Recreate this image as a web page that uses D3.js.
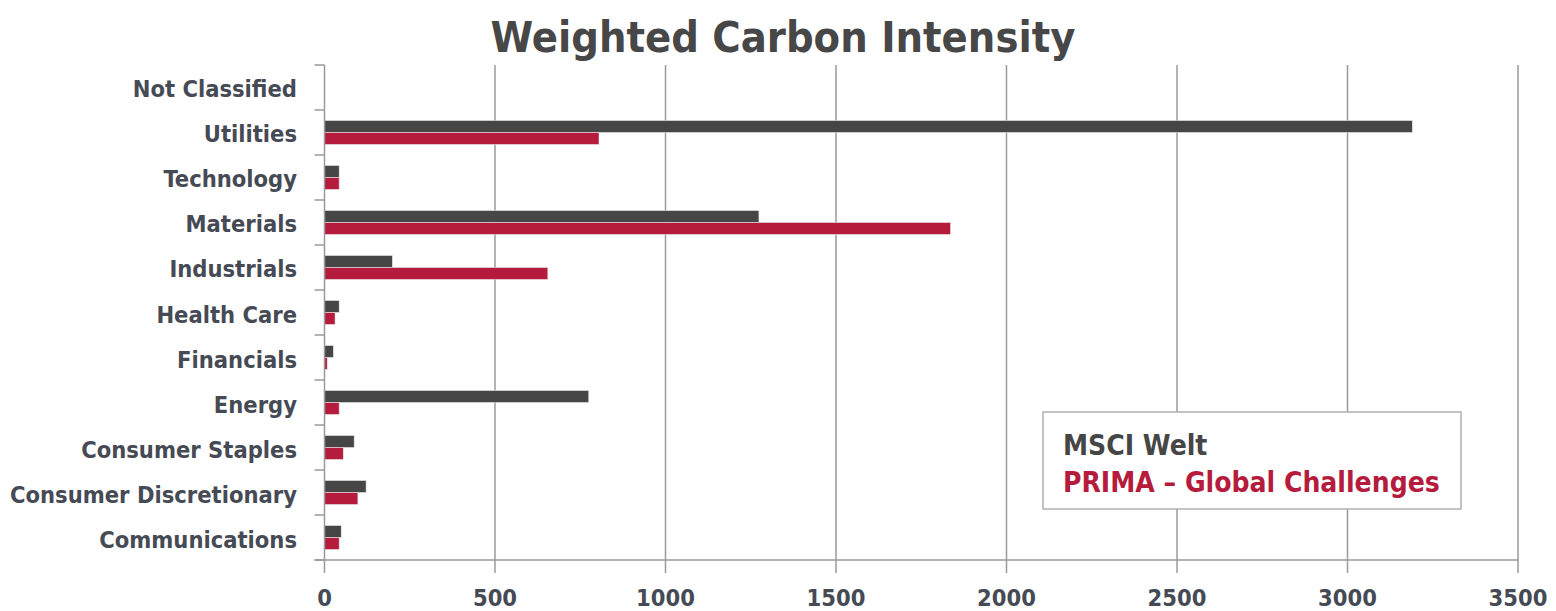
<!DOCTYPE html>
<html><head><meta charset="utf-8">
<script src="https://cdn.jsdelivr.net/npm/d3@7"></script>
<style>
body{margin:0;background:#fff;}
svg text{font-family:"Liberation Sans Narrow","DejaVu Sans Condensed",sans-serif;font-weight:bold;}
</style></head>
<body><svg id="c" width="1556" height="611"></svg>
<script>
const categories = ["Not Classified","Utilities","Technology","Materials","Industrials","Health Care","Financials","Energy","Consumer Staples","Consumer Discretionary","Communications"];
const seriesNames = ["MSCI Welt","PRIMA – Global Challenges"];
const msciValues =  [0, 3190, 43, 1274, 199, 43, 26, 775, 87, 122, 49];
const primaValues = [0, 805, 43, 1836, 655, 31, 8, 43, 55, 98, 43];
const xTicks = [0,500,1000,1500,2000,2500,3000,3500];
const colors = ["#464646","#b51b3d"];

const svg = d3.select("#c");
const m = {left:324.5, right:1518, top:65, bottom:560};
const x = d3.scaleLinear().domain([0,3500]).range([m.left,m.right]);
const y = d3.scaleBand().domain(categories).range([m.top,m.bottom]).paddingInner(0.467).paddingOuter(0.233);
const inner = d3.scaleBand().domain([0,1]).range([0,y.bandwidth()]);

svg.append("text").attr("x",783).attr("y",52).attr("text-anchor","middle")
  .attr("font-size",43).attr("fill","#474747").text("Weighted Carbon Intensity");

// gridlines
svg.append("g").selectAll("line").data(xTicks.slice(1)).join("line")
  .attr("x1",d=>x(d)).attr("x2",d=>x(d)).attr("y1",m.top).attr("y2",m.bottom+13)
  .attr("stroke","#9a9a9a").attr("stroke-width",1.5);

// bars
const rows = categories.map((c,i)=>({c, v:[msciValues[i],primaValues[i]]}));
const g = svg.append("g");
rows.forEach(r=>{
  r.v.forEach((v,k)=>{
    if(v<=0) return;
    g.append("rect").attr("x",x(0)).attr("y",y(r.c)+inner(k))
      .attr("width",x(v)-x(0)).attr("height",inner.bandwidth())
      .attr("fill",colors[k]).attr("stroke","#e8e8e8").attr("stroke-width",0.6);
  });
});

// y axis
svg.append("line").attr("x1",x(0)).attr("x2",x(0)).attr("y1",m.top).attr("y2",m.bottom+13)
  .attr("stroke","#9a9a9a").attr("stroke-width",1.5);
const yTickPos = categories.map(c=>y(c)-y.step()*y.paddingInner()/2).concat([m.bottom]);
svg.append("g").selectAll("line").data(yTickPos).join("line")
  .attr("x1",m.left-10).attr("x2",m.left).attr("y1",d=>d).attr("y2",d=>d)
  .attr("stroke","#9a9a9a").attr("stroke-width",1.5);
// x axis line
svg.append("line").attr("x1",m.left-10).attr("x2",m.right).attr("y1",m.bottom).attr("y2",m.bottom)
  .attr("stroke","#9a9a9a").attr("stroke-width",1.5);

svg.append("g").selectAll("text").data(categories).join("text")
  .attr("x",297).attr("y",c=>y(c)+y.bandwidth()/2+10).attr("text-anchor","end")
  .attr("font-size",23.5).attr("fill","#454a55").text(d=>d);

svg.append("g").selectAll("text").data(xTicks).join("text")
  .attr("x",d=>x(d)).attr("y",606).attr("text-anchor","middle")
  .attr("font-size",23.5).attr("fill","#454a55").text(d=>d);

// legend
svg.append("rect").attr("x",1043).attr("y",412).attr("width",418).attr("height",97)
  .attr("fill","#fff").attr("stroke","#b0b0b0").attr("stroke-width",1.5);
svg.append("g").selectAll("text").data(seriesNames).join("text")
  .attr("x",1063).attr("y",(d,i)=>455+i*37).attr("font-size",28)
  .attr("fill",(d,i)=>colors[i]).text(d=>d);
</script></body></html>
